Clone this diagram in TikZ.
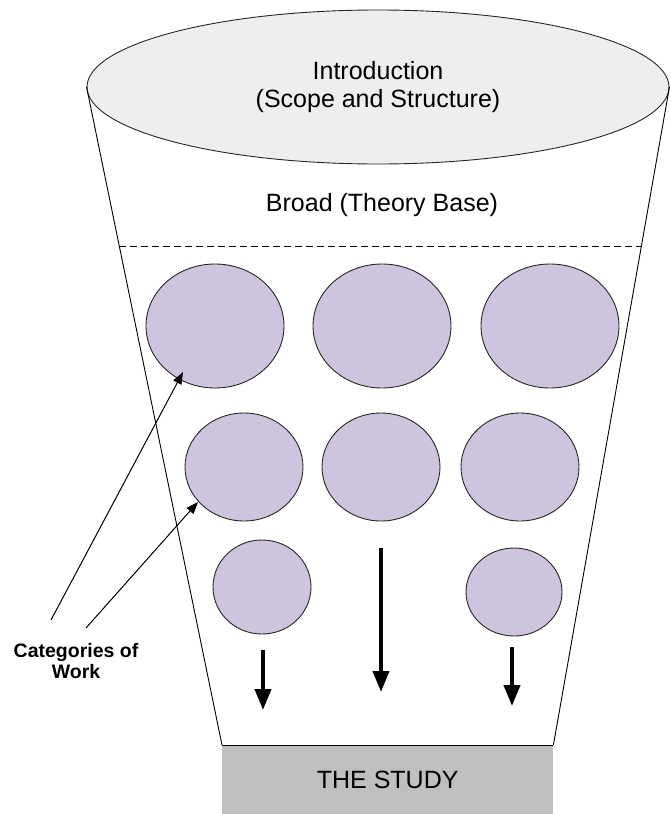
\documentclass[tikz,border=0pt]{standalone}
\usepackage{fontspec}
\setmainfont{Liberation Sans}
\usetikzlibrary{shapes.geometric,arrows.meta,calc}

\definecolor{lidfill}{RGB}{238,238,241}
\definecolor{catfill}{RGB}{207,196,221}
\definecolor{studyfill}{RGB}{191,191,191}

\tikzset{
  cat/.style={ellipse, draw=black!85, line width=0.9pt, fill=catfill, inner sep=0pt},
  flow/.style={-{Triangle[length=21pt,width=16pt]}, line width=4pt},
  pointer/.style={-{Triangle[length=12pt,width=9pt]}, line width=1pt},
  side/.style={line width=0.9pt},
}

\begin{document}
\begin{tikzpicture}[x=1pt,y=-1pt]
  \path[use as bounding box] (0,0) rectangle (670,814);

  % funnel mouth
  \node[ellipse, draw=black!85, line width=0.9pt, fill=lidfill,
        minimum width=582pt, minimum height=154pt, inner sep=0pt,
        font=\fontsize{25}{28}\selectfont, align=center] (intro) at (378,87)
        {Introduction\\(Scope and Structure)};

  % funnel spout
  \node[rectangle, fill=studyfill, minimum width=331pt, minimum height=69pt,
        inner sep=0pt, anchor=north west, font=\fontsize{25}{28}\selectfont]
        (study) at (222,745) {THE STUDY};
  \draw[side] (study.north west) -- (study.north east);

  % funnel sides
  \draw[side] (intro.west) -- (study.north west);
  \draw[side] (intro.east) -- (study.north east);

  % theory base band
  \node[font=\fontsize{25}{28}\selectfont] (broad) at (382,205) {Broad (Theory Base)};
  \coordinate (dl) at ($(intro.west)!0.2416!(study.north west)$);
  \coordinate (dr) at ($(intro.east)!0.2416!(study.north east)$);
  \draw[dashed, dash pattern=on 7pt off 4pt, line width=0.9pt] (dl) -- (dr);

  % categories of work
  \node[cat, minimum width=138pt, minimum height=124pt] (c11) at (215,326) {};
  \node[cat, minimum width=138pt, minimum height=124pt] (c12) at (382,326) {};
  \node[cat, minimum width=138pt, minimum height=124pt] (c13) at (550,326) {};
  \node[cat, minimum width=118pt, minimum height=108pt] (c21) at (244,467) {};
  \node[cat, minimum width=118pt, minimum height=108pt] (c22) at (381,467) {};
  \node[cat, minimum width=118pt, minimum height=108pt] (c23) at (520,467) {};
  \node[cat, minimum width=98pt, minimum height=94pt] (c31) at (262,587) {};
  \node[cat, minimum width=96pt, minimum height=88pt] (c33) at (514,592) {};

  % flow into the study
  \coordinate (a1s) at (263,650);
  \coordinate (a1e) at (263,710);
  \coordinate (a2s) at (381,548);
  \coordinate (a2e) at (381,692);
  \coordinate (a3s) at (512,647);
  \coordinate (a3e) at (512,706);
  \draw[flow] (a1s) -- (a1e);
  \draw[flow] (a2s) -- (a2e);
  \draw[flow] (a3s) -- (a3e);

  % label and pointers
  \node[font=\bfseries\fontsize{19.5}{21}\selectfont, align=center] (lbl) at (76,661)
        {Categories of\\Work};
  \coordinate (p1) at (51,620);
  \coordinate (p2) at (86,628);
  \coordinate (t1) at (183,372);
  \coordinate (t2) at (198,502);
  \draw[pointer] (p1) -- (t1);
  \draw[pointer] (p2) -- (t2);
\end{tikzpicture}
\end{document}
